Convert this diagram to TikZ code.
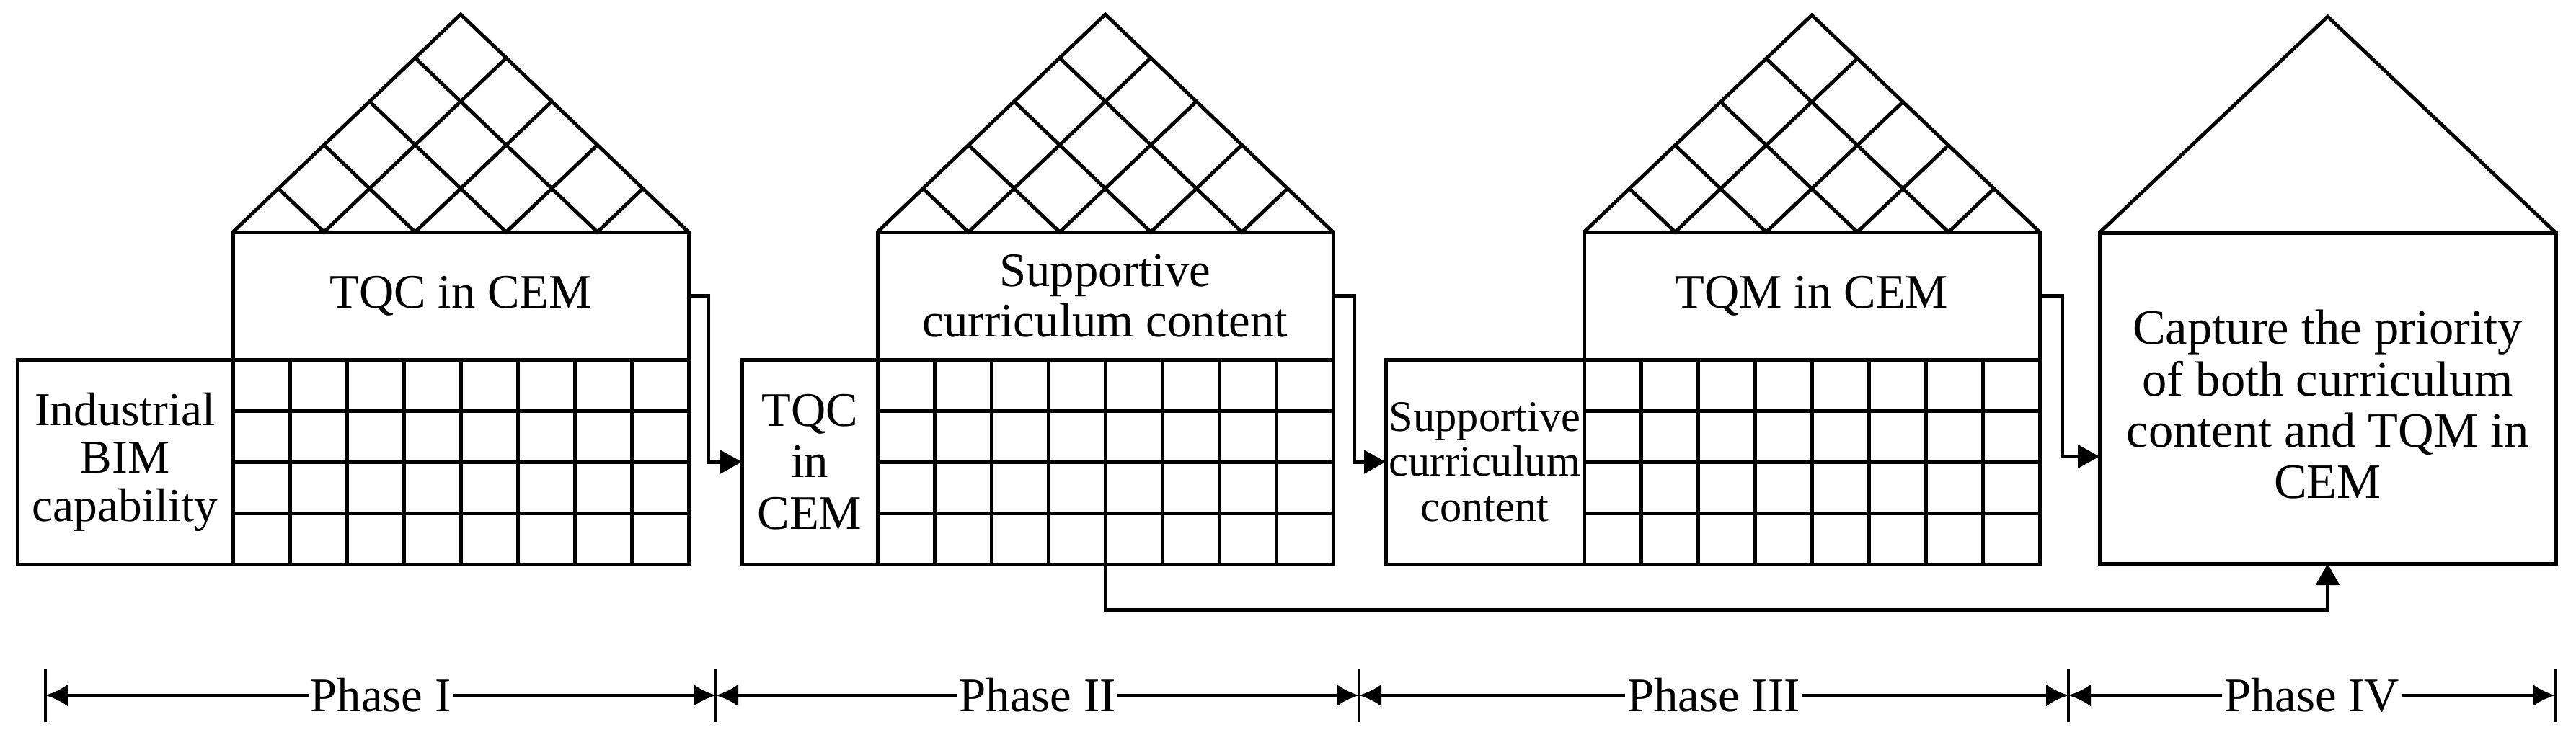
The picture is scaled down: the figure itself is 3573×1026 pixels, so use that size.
\documentclass[tikz,border=0pt]{standalone}
\usepackage{fontspec}
\setmainfont{Liberation Serif}
\usetikzlibrary{calc,arrows.meta}
\tikzset{
  ln/.style={line width=0.5mm, line join=miter},
  box/.style={ln, draw, inner sep=0pt, outer sep=0pt, anchor=north west, align=center},
  txt/.style={font=\fontsize{19}{20}\selectfont},
  conn/.style={ln, -{Triangle[length=3mm,width=3.2mm]}},
  phase/.style={ln, {Latex[length=3.1mm,width=3.1mm]}-{Latex[length=3.1mm,width=3.1mm]}},
  plabel/.style={fill=white, inner sep=0.3mm, font=\fontsize{19}{20}\selectfont},
  tick/.style={line width=0.4mm},
}
\newcommand{\gridhouse}[7]{%
  \node[box, minimum width={(#3-#2)*0.1mm}, minimum height=28.4mm, font={#7}] (#1left) at (#2,499) {#6};
  \node[box, minimum width=63.2mm, minimum height=17.7mm, txt] (#1up) at (#3,322) {#5};
  \node[box, minimum width=63.2mm, minimum height=28.4mm] (#1grid) at (#3,499) {};
  \foreach \k in {1,...,7} {\draw[ln] ({#3+79*\k},499) -- ({#3+79*\k},783);}
  \foreach \k in {1,2,3} {\draw[ln] (#3,{499+71*\k}) -- ({#3+632},{499+71*\k});}
  \coordinate (#1A) at ({#3+316},#4);
  \draw[ln] (#1up.north west) -- (#1A) -- (#1up.north east);
  \foreach \q in {0.2,0.4,0.6,0.8} {
    \draw[ln] ($(#1up.north west)!\q!(#1A)$) -- ($(#1up.north west)!\q!(#1up.north east)$) -- ($(#1A)!\q!(#1up.north east)$);
  }
}
\begin{document}
\begin{tikzpicture}[x=0.1mm, y=-0.1mm]
\useasboundingbox (0,0) rectangle (3573,1026);

\gridhouse{h1}{24}{323}{20}{TQC in CEM}{Industrial\\BIM\\capability}{\fontsize{18.6}{18.9}\selectfont}
\gridhouse{h2}{1029}{1217}{20}{Supportive\\curriculum content}{TQC\\in\\CEM}{\fontsize{19}{20.3}\selectfont}
\gridhouse{h3}{1922}{2197}{21}{TQM in CEM}{Supportive\\curriculum\\content}{\fontsize{17.2}{17.8}\selectfont}

\node[box, minimum width=63.3mm, minimum height=45.9mm] (h4box) at (2912,323) {};
\node[align=center, inner sep=0pt, font=\fontsize{19.5}{20.3}\selectfont] (h4txt) at ($(h4box.center)+(0,9)$)
  {Capture the priority\\of both curriculum\\content and TQM in\\CEM};
\coordinate (h4A) at (3228.5,23);
\draw[ln] (h4box.north west) -- (h4A) -- (h4box.north east);

% connectors
\draw[conn] (h1up.east) -- ++(27,0) |- (h2left.west);
\draw[conn] (h2up.east) -- ++(29,0) |- (h3left.west);
\path (h4box.west) ++(0,81) coordinate (h4in);
\draw[conn] (h3up.east) -- ++(31,0) |- (h4in);
\draw[conn] (h2grid.south) -- ++(0,63) -| (h4box.south);

% phases
\foreach \x/\n in {63/0, 993/1, 1885/2, 2869/3, 3544/4} {
  \coordinate (t\n) at (\x,965);
  \draw[tick] (\x,928) -- (\x,1002);
}
\draw[phase] (t0) -- node[plabel]{Phase I} (t1);
\draw[phase] (t1) -- node[plabel]{Phase II} (t2);
\draw[phase] (t2) -- node[plabel]{Phase III} (t3);
\draw[phase] (t3) -- node[plabel]{Phase IV} (t4);
\end{tikzpicture}
\end{document}
